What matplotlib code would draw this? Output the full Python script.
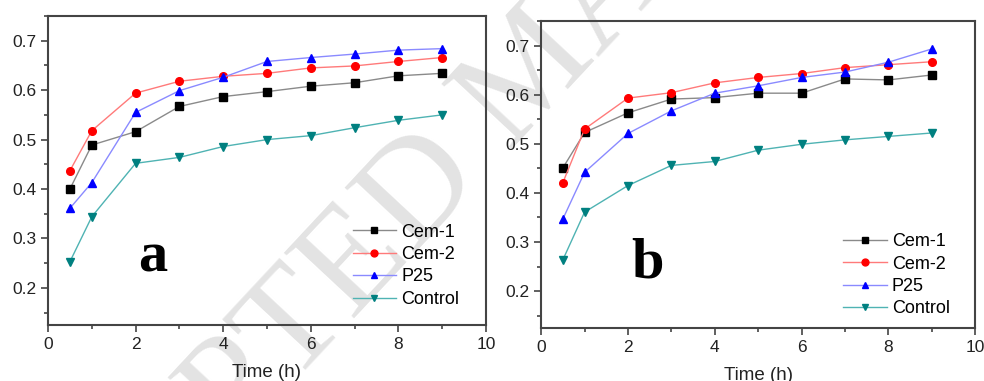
"""
Two-panel time course chart (panels a and b): Cem-1, Cem-2, P25, Control
"""

import matplotlib
matplotlib.use("Agg")
import matplotlib.pyplot as plt
from matplotlib.ticker import MultipleLocator

# time points (h)
time_h = [0.5, 1, 2, 3, 4, 5, 6, 7, 8, 9]

# panel a
a_cem1 = [0.400, 0.489, 0.516, 0.567, 0.587, 0.597, 0.608, 0.615, 0.629, 0.634]
a_cem2 = [0.437, 0.518, 0.594, 0.618, 0.628, 0.634, 0.645, 0.649, 0.658, 0.666]
a_p25 = [0.361, 0.413, 0.555, 0.599, 0.626, 0.658, 0.666, 0.673, 0.681, 0.684]
a_control = [0.253, 0.344, 0.452, 0.464, 0.486, 0.500, 0.508, 0.524, 0.539, 0.550]

# panel b
b_cem1 = [0.451, 0.523, 0.563, 0.591, 0.594, 0.603, 0.603, 0.632, 0.630, 0.640]
b_cem2 = [0.421, 0.530, 0.593, 0.604, 0.624, 0.635, 0.643, 0.655, 0.661, 0.667]
b_p25 = [0.347, 0.442, 0.521, 0.567, 0.603, 0.618, 0.635, 0.646, 0.666, 0.693]
b_control = [0.264, 0.361, 0.415, 0.456, 0.464, 0.487, 0.499, 0.508, 0.515, 0.522]

series_names = ["Cem-1", "Cem-2", "P25", "Control"]
panel_labels = ["a", "b"]

# (line colour, marker, marker colour)
styles = [
    ("#8a8a8a", "s", "black"),
    ("#ff7a7a", "o", "red"),
    ("#8a8aff", "^", "blue"),
    ("#4fb3b3", "v", "#008080"),
]

plt.rcParams["font.family"] = ["Liberation Sans", "DejaVu Sans"]

fig = plt.figure(figsize=(9.84, 3.81), dpi=100)

# faint diagonal watermark behind everything
fig.text(-0.030, -0.916, "ACCEPTED MANUSCRIPT", fontsize=105,
         family=["Liberation Serif", "DejaVu Serif"], color="#e3e3e3",
         rotation=47, rotation_mode="anchor", ha="left", va="baseline",
         zorder=-1)

ax_a = fig.add_axes([0.0488, 0.147, 0.445, 0.811])
ax_b = fig.add_axes([0.550, 0.139, 0.441, 0.806])

panels = [
    (ax_a, [a_cem1, a_cem2, a_p25, a_control], (2.4, 0.262), (0.696, 0.328)),
    (ax_b, [b_cem1, b_cem2, b_p25, b_control], (2.44, 0.257), (0.696, 0.309)),
]

for i, (ax, data, lab_pos, leg_pos) in enumerate(panels):
    ax.set_facecolor("none")
    for name, values, (lc, mk, mc) in zip(series_names, data, styles):
        ax.plot(time_h, values, color=lc, lw=1.0, marker=mk, ms=5.5,
                markerfacecolor=mc, markeredgecolor=mc, label=name)

    ax.set_xlim(0, 10)
    ax.set_ylim(0.125, 0.75)
    ax.xaxis.set_major_locator(MultipleLocator(2))
    ax.xaxis.set_minor_locator(MultipleLocator(1))
    ax.yaxis.set_minor_locator(MultipleLocator(0.05))
    ax.set_yticks([0.2, 0.3, 0.4, 0.5, 0.6, 0.7])
    ax.tick_params(which="both", direction="out", colors="#444444",
                   labelcolor="#222222", labelsize=12.5, width=1.2)
    ax.tick_params(which="major", length=5)
    ax.tick_params(which="minor", length=3)
    for sp in ax.spines.values():
        sp.set_color("#444444")
        sp.set_linewidth(1.5)

    ax.set_xlabel("Time (h)", fontsize=13.5, color="#222222", labelpad=9)

    ax.text(lab_pos[0], lab_pos[1], panel_labels[i], fontsize=42,
            fontweight="bold", family=["Liberation Serif", "DejaVu Serif"],
            ha="center", va="center")

    ax.legend(loc="upper left", bbox_to_anchor=leg_pos, frameon=False,
              fontsize=13, handlelength=2.4, handletextpad=0.3,
              labelspacing=0.3, borderaxespad=0, borderpad=0,
              markerscale=0.9)

fig.savefig("out.png", dpi=100)
